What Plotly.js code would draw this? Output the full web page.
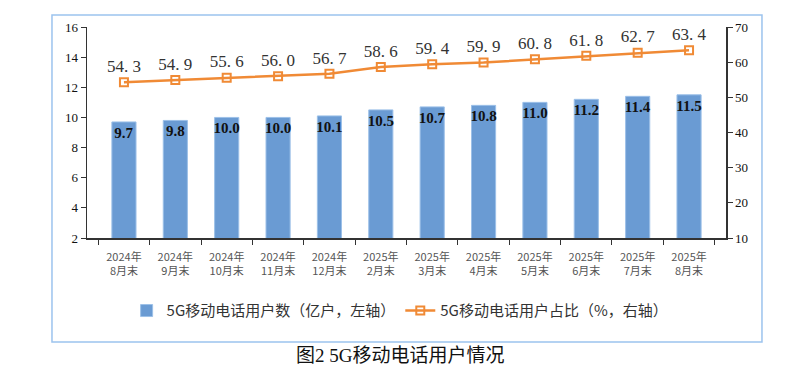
<!DOCTYPE html>
<html><head><meta charset="utf-8">
<script src="https://cdn.plot.ly/plotly-3.0.1.min.js"></script>
<style>html,body{margin:0;padding:0;background:#fff}#chart{width:800px;height:391px}</style>
</head><body><div id="chart"></div>
<script>
const categories = ["2024年<br>8月末","2024年<br>9月末","2024年<br>10月末","2024年<br>11月末","2024年<br>12月末","2025年<br>2月末","2025年<br>3月末","2025年<br>4月末","2025年<br>5月末","2025年<br>6月末","2025年<br>7月末","2025年<br>8月末"];
const users = [9.7, 9.8, 10.0, 10.0, 10.1, 10.5, 10.7, 10.8, 11.0, 11.2, 11.4, 11.5];
const share = [54.3, 54.9, 55.6, 56.0, 56.7, 58.6, 59.4, 59.9, 60.8, 61.8, 62.7, 63.4];
const leftTicks = [2,4,6,8,10,12,14,16];
const rightTicks = [10,20,30,40,50,60,70];

const cjk = '"Noto Sans CJK SC", sans-serif';
const serif = '"Liberation Serif", "Noto Sans CJK SC", serif';

const traces = [
  {type:'bar', x:categories, y:users, name:'5G移动电话用户数（亿户，左轴）',
   marker:{color:'#6a9bd3', line:{color:'#9cc0e8', width:1}}, width:0.47,
   text:users.map(v=>v.toFixed(1)), textposition:'inside', insidetextanchor:'end', textangle:0,
   constraintext:'none',
   textfont:{family:serif, size:15, color:'#111', weight:'bold'}, cliponaxis:false, hoverinfo:'skip'},
  {type:'scatter', mode:'lines+markers+text', x:categories, y:share, yaxis:'y2',
   name:'5G移动电话用户占比（%，右轴）',
   line:{color:'#f08a35', width:2.5},
   marker:{symbol:'square-open', size:8, color:'#f08a35', line:{width:2}},
   text:share.map(v=>v.toFixed(1).replace('.', '. ')), textposition:'top center',
   textfont:{family:serif, size:17, color:'#333'}, cliponaxis:false, hoverinfo:'skip'}
];

const layout = {
  width:800, height:391,
  margin:{l:87, r:74, t:27, b:153},
  paper_bgcolor:'#fff', plot_bgcolor:'#fff',
  showlegend:true,
  xaxis:{type:'category', tickson:'boundaries', ticks:'outside', ticklen:5, tickcolor:'#333',
    showline:true, linecolor:'#333', linewidth:1.5, showgrid:false, ticklabelstandoff:8,
    tickfont:{family:cjk, size:11, color:'#555'}},
  yaxis:{range:[2,16], tickvals:leftTicks, ticks:'outside', ticklen:5, tickcolor:'#333',
    showline:true, linecolor:'#333', linewidth:1.5, showgrid:false, zeroline:false,
    tickfont:{family:serif, size:13, color:'#111'}},
  yaxis2:{range:[10,70], tickvals:rightTicks, overlaying:'y', side:'right', ticks:'outside', ticklen:5, tickcolor:'#333',
    showline:true, linecolor:'#333', linewidth:1.5, showgrid:false, zeroline:false,
    tickfont:{family:serif, size:13, color:'#111'}},
  legend:{orientation:'h', x:0.49, xanchor:'center', y:-0.345, yanchor:'middle',
    font:{family:cjk, size:15, color:'#333'}, itemwidth:30, tracegroupgap:0},
  shapes:[{type:'rect', xref:'paper', yref:'paper', x0:-0.0548, x1:1.0563, y0:-0.493, y1:1.057,
    line:{color:'#9cc3ee', width:1.5}, fillcolor:'rgba(0,0,0,0)', layer:'below'}],
  annotations:[{xref:'paper', yref:'paper', x:0.49, y:-0.555, xanchor:'center', yanchor:'middle', showarrow:false,
    text:'图2 5G移动电话用户情况', font:{family:serif, size:19, color:'#111'}}]
};
Plotly.newPlot('chart', traces, layout, {displayModeBar:false, staticPlot:true});
</script></body></html>
